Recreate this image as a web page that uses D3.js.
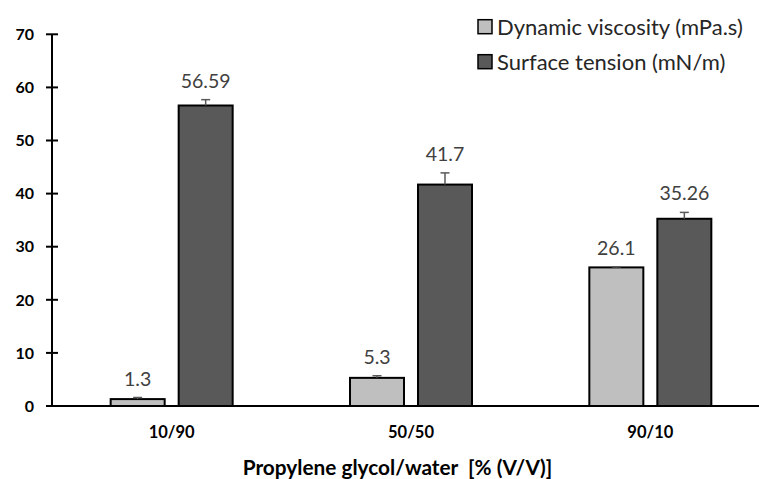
<!DOCTYPE html>
<html><head><meta charset="utf-8">
<script src="https://cdn.jsdelivr.net/npm/d3@7"></script>
<style>body{margin:0;background:#fff}svg{display:block}</style>
</head><body><svg id="c" width="759" height="479"></svg>
<script>
const categories = ["10/90", "50/50", "90/10"];
const seriesNames = ["Dynamic viscosity (mPa.s)", "Surface tension (mN/m)"];
const viscosity = [1.3, 5.3, 26.1];
const viscosityErr = [0.3, 0.4, 0.1];
const tension = [56.59, 41.7, 35.26];
const tensionErr = [1.1, 2.2, 1.2];
const yTicks = [0, 10, 20, 30, 40, 50, 60, 70];
const colors = ["#bfbfbf", "#595959"];
const xTitle = "Propylene glycol/water  [% (V/V)]";

const svg = d3.select("#c");
const font = "Lato, 'Open Sans', sans-serif";
const x0 = 52, x1 = 770, yBot = 406, yTop = 34.3;
const x = d3.scaleBand().domain(categories).range([x0, x1]);
const y = d3.scaleLinear().domain([0, 70]).range([yBot, yTop]);
const barW = 54, gap = 14;

const series = [
  {name: seriesNames[0], vals: viscosity, err: viscosityErr, color: colors[0], off: -(gap/2 + barW)},
  {name: seriesNames[1], vals: tension, err: tensionErr, color: colors[1], off: gap/2}
];

// y axis
const yAxis = d3.axisLeft(y).tickValues(yTicks).tickSize(0).tickPadding(0);
const gy = svg.append("g").attr("transform", `translate(${x0},0)`).call(yAxis);
gy.select(".domain").remove();
gy.selectAll(".tick text").remove();
svg.append("line").attr("x1", x0).attr("x2", x0).attr("y1", y(70)).attr("y2", y(0))
  .attr("stroke", "#000").attr("stroke-width", 2);
yTicks.forEach(t => {
  svg.append("line").attr("x1", x0 - 6).attr("x2", x0 + 6).attr("y1", y(t)).attr("y2", y(t))
    .attr("stroke", "#000").attr("stroke-width", 2);
  svg.append("text").attr("x", 34).attr("y", y(t)).attr("dy", "0.36em")
    .attr("text-anchor", "end").attr("font-family", font).attr("font-weight", "bold")
    .attr("font-size", 16).attr("fill", "#000").text(t);
});

// bars
series.forEach(s => {
  categories.forEach((c, i) => {
    const cx = x(c) + x.bandwidth() / 2;
    const bx = cx + s.off;
    svg.append("rect").attr("x", bx).attr("y", y(s.vals[i])).attr("width", barW)
      .attr("height", y(0) - y(s.vals[i])).attr("fill", s.color)
      .attr("stroke", "#000").attr("stroke-width", 2);
    const ex = bx + barW / 2;
    const ey = y(s.vals[i] + s.err[i]);
    svg.append("line").attr("x1", ex).attr("x2", ex).attr("y1", y(s.vals[i])).attr("y2", ey)
      .attr("stroke", "#595959").attr("stroke-width", 1.5);
    svg.append("line").attr("x1", ex - 4.5).attr("x2", ex + 4.5).attr("y1", ey).attr("y2", ey)
      .attr("stroke", "#595959").attr("stroke-width", 1.5);
    svg.append("text").attr("x", ex).attr("y", ey - 12)
      .attr("text-anchor", "middle").attr("font-family", font).attr("font-size", 19.5)
      .attr("fill", "#404040").text(s.vals[i]);
  });
});

// x axis
svg.append("line").attr("x1", x0 - 6).attr("x2", 759).attr("y1", yBot).attr("y2", yBot)
  .attr("stroke", "#000").attr("stroke-width", 2);
const xAxis = d3.axisBottom(x).tickSize(0).tickPadding(0);
const gx = svg.append("g").attr("transform", `translate(0,${yBot})`).call(xAxis);
gx.select(".domain").remove();
gx.selectAll(".tick text").attr("y", 26).attr("dy", "0.36em")
  .attr("font-family", font).attr("font-weight", "bold").attr("font-size", 16.5).attr("fill", "#000");

svg.append("text").attr("x", 397.5).attr("y", 468).attr("dy", "0.36em").attr("text-anchor", "middle")
  .attr("font-family", font).attr("font-weight", "bold").attr("font-size", 20.8).attr("fill", "#000")
  .attr("xml:space", "preserve").style("white-space", "pre").text(xTitle);

// legend
series.forEach((s, i) => {
  const ly = 26.7 + i * 35;
  svg.append("rect").attr("x", 478).attr("y", ly - 7).attr("width", 14).attr("height", 14)
    .attr("fill", s.color).attr("stroke", "#000").attr("stroke-width", 1.5);
  svg.append("text").attr("x", 497).attr("y", ly).attr("dy", "0.36em")
    .attr("font-family", font).attr("font-size", 22).attr("fill", "#262626").text(s.name);
});
</script></body></html>
